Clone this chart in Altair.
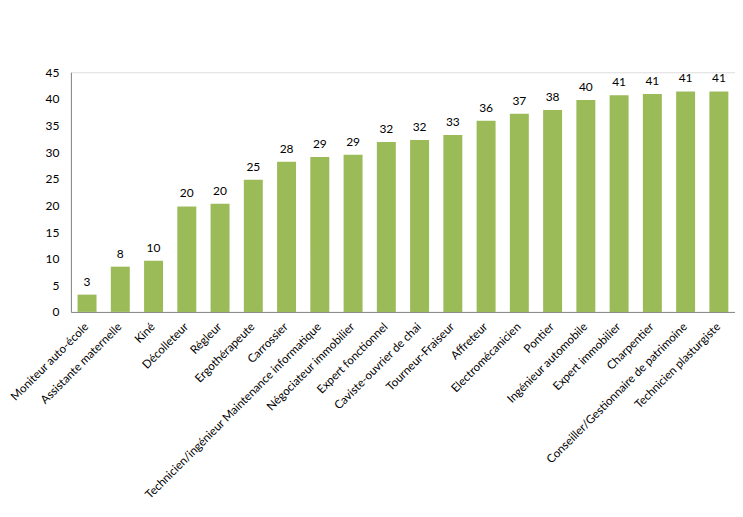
import altair as alt
import pandas as pd

metiers = [
    "Moniteur auto-école", "Assistante maternelle", "Kiné", "Décolleteur", "Régleur",
    "Ergothérapeute", "Carrossier", "Technicien/ingénieur Maintenance informatique",
    "Négociateur immobilier", "Expert fonctionnel", "Caviste-ouvrier de chai",
    "Tourneur-Fraiseur", "Affreteur", "Electromécanicien", "Pontier",
    "Ingénieur automobile", "Expert immobilier", "Charpentier",
    "Conseiller/Gestionnaire de patrimoine", "Technicien plasturgiste",
]
valeurs = [3.25, 8.5, 9.6, 19.8, 20.3, 24.8, 28.2, 29.1, 29.5, 31.9, 32.3, 33.2,
           35.9, 37.2, 37.9, 39.8, 40.7, 40.9, 41.4, 41.4]
etiquettes = ["3", "8", "10", "20", "20", "25", "28", "29", "29", "32", "32", "33",
              "36", "37", "38", "40", "41", "41", "41", "41"]

df = pd.DataFrame({"metier": metiers, "valeur": valeurs, "label": etiquettes})

FONT = "Lato"

base = alt.Chart(df).encode(
    x=alt.X("metier:N", sort=metiers, title=None,
            scale=alt.Scale(paddingInner=0.43, paddingOuter=0.2),
            axis=alt.Axis(labelAngle=-45, labelAlign="right", labelBaseline="middle",
                          labelPadding=13, ticks=False, domainColor="#868686",
                          labelFont=FONT, labelFontSize=11.6, labelColor="#000000",
                          labelLimit=400)),
    y=alt.Y("valeur:Q", title=None,
            scale=alt.Scale(domain=[0, 45], nice=False),
            axis=alt.Axis(values=list(range(0, 50, 5)), grid=False, ticks=False,
                          domainColor="#868686", labelPadding=12,
                          labelFont=FONT, labelFontSize=12, labelColor="#000000")),
)

bars = base.mark_bar(color="#9BBB59")
texts = base.mark_text(baseline="middle", dy=-13, font=FONT, fontSize=12,
                       color="#000000").encode(text="label:N")

chart = (bars + texts).properties(
    width=665, height=240,
    autosize=alt.AutoSizeParams(type="none"),
    padding={"left": 63, "top": 64, "right": 0, "bottom": 200},
).configure_view(stroke=None).configure(background="#ffffff")

chart.save("out.html", embed_options={"renderer": "svg", "actions": False})
